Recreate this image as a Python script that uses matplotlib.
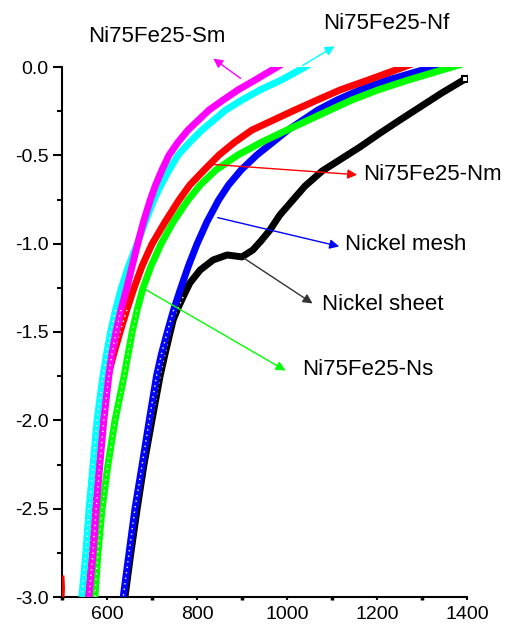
import numpy as np
import matplotlib.pyplot as plt
from matplotlib.ticker import MultipleLocator, FormatStrFormatter

plt.rcParams['font.family'] = ['Liberation Sans', 'DejaVu Sans']
plt.rcParams['axes.unicode_minus'] = False

# Curves: shared y levels, one x list per sample
levels_y = [0.030, 0.0, -0.074, -0.130, -0.187, -0.243, -0.357, -0.425, -0.498, -0.583, -0.668, -0.753, -0.877,
            -1.002, -1.126, -1.251, -1.375, -1.500, -1.624, -1.749, -1.998, -2.253, -2.502, -2.751, -3.0]
sm_x = [998, 978, 929, 891, 858, 827, 780, 758, 738, 722, 708, 696, 681,
        668, 656, 644, 631, 620, 611, 604, 593, 584, 576, 569, 560]
nf_x = [1060, 1040, 987, 940, 900, 864, 811, 784, 758, 738, 720, 704, 685,
        667, 648, 632, 619, 608, 599, 591, 578, 569, 560, 553, 544]
nm_x = [1291, 1260, 1180, 1118, 1067, 1018, 922, 884, 849, 816, 784, 760, 729,
        700, 678, 660, 644, 629, 615, 602, 587, 578, 569, 562, 556]
ns_x = [1407, 1367, 1269, 1202, 1144, 1096, 1000, 944, 891, 842, 807, 780, 747,
        720, 698, 680, 667, 656, 647, 638, 618, 602, 589, 580, 573]
mesh_x = [1351, 1324, 1224, 1162, 1111, 1069, 1002, 969, 933, 898, 870, 848, 822,
          800, 781, 764, 748, 734, 721, 710, 694, 678, 662, 649, 636]

sheet_x = [1396, 1344, 1296, 1251, 1207, 1162, 1120, 1078, 1040, 1013, 984, 962, 942, 924, 900, 867, 836, 807,
           784, 769, 756, 747, 740, 729, 718, 700, 682, 667, 653, 640]
sheet_y = [-0.068, -0.147, -0.226, -0.300, -0.374, -0.453, -0.521, -0.589, -0.674, -0.753, -0.838, -0.923, -0.985,
           -1.036, -1.075, -1.064, -1.092, -1.149, -1.223, -1.302, -1.375, -1.432, -1.506, -1.624, -1.749, -1.998,
           -2.253, -2.502, -2.751, -3.0]

nm_tail_x = [501, 502, 501]
nm_tail_y = [-2.89, -2.95, -3.0]

# Labels: text position, arrow tail (on curve), arrow head
names = ['Ni75Fe25-Sm', 'Ni75Fe25-Nf', 'Ni75Fe25-Nm', 'Nickel mesh', 'Nickel sheet', 'Ni75Fe25-Ns']
label_x = [558, 1080, 1169, 1129, 1078, 1033]
label_y = [0.175, 0.249, -0.611, -1.002, -1.347, -1.715]
tail_x = [902, 1029, 822, 840, 900, 680]
tail_y = [-0.074, 0.0, -0.549, -0.849, -1.075, -1.251]
head_x = [831, 1111, 1162, 1122, 1062, 1002]
head_y = [0.057, 0.125, -0.611, -1.019, -1.347, -1.726]
arrow_colors = ['#ff00ff', '#00ffff', '#ff0000', '#0000ff', '#333333', '#00ff00']

fig = plt.figure(figsize=(5.05, 6.28), dpi=100)
ax = fig.add_axes([62 / 505, 1 - 597 / 628, 405 / 505, 530 / 628])

# Drawing order follows the overlaps in the picture
curves = [
  (sheet_x, sheet_y, 'black'),
  (mesh_x, levels_y, '#0000ff'),
  (ns_x, levels_y, '#00ff00'),
  (nm_x, levels_y, '#ff0000'),
  (nf_x, levels_y, '#00ffff'),
  (sm_x, levels_y, '#ff00ff'),
]
for k, (x, y, c) in enumerate(curves):
  x = np.array(x)
  y = np.array(y)
  ax.plot(x, y, color=c, lw=5, solid_capstyle='butt', solid_joinstyle='round', zorder=2 + k)
  sel = y <= -1.3
  ax.plot(x[sel], y[sel], color='white', lw=1.0, ls=(0, (1, 3)), zorder=2 + k)

ax.plot(nm_tail_x, nm_tail_y, color='#ff0000', lw=3, zorder=3)
# Last marker of the nickel sheet curve
ax.plot(sheet_x[0], sheet_y[0], marker='s', ms=5, mfc='white', mec='black', mew=1.5, zorder=2)

for i in range(len(names)):
  ax.annotate('', xy=(head_x[i], head_y[i]), xytext=(tail_x[i], tail_y[i]),
              arrowprops=dict(arrowstyle='-|>', color=arrow_colors[i], lw=1, mutation_scale=14),
              annotation_clip=False, zorder=10)
  ax.text(label_x[i], label_y[i], names[i], fontsize=16, ha='left', va='center', clip_on=False)

ax.set_xlim(500, 1400)
ax.set_ylim(-3.0, 0.0)
ax.set_xticks([600, 800, 1000, 1200, 1400])
ax.xaxis.set_minor_locator(MultipleLocator(100))
ax.set_yticks(np.arange(-3.0, 0.01, 0.5))
ax.yaxis.set_minor_locator(MultipleLocator(0.25))
ax.yaxis.set_major_formatter(FormatStrFormatter('%.1f'))

for s in ['top', 'right']:
  ax.spines[s].set_visible(False)
for s in ['left', 'bottom']:
  ax.spines[s].set_linewidth(1.5)

ax.tick_params(axis='y', which='major', direction='out', length=6.5, width=1.5, labelsize=14, pad=3)
ax.tick_params(axis='y', which='minor', direction='out', length=3.5, width=1.5)
ax.tick_params(axis='x', which='major', direction='out', length=2.5, width=1.5, labelsize=14, pad=4)
ax.tick_params(axis='x', which='minor', direction='out', length=2.5, width=2.5)

fig.savefig('out.png', dpi=100)
